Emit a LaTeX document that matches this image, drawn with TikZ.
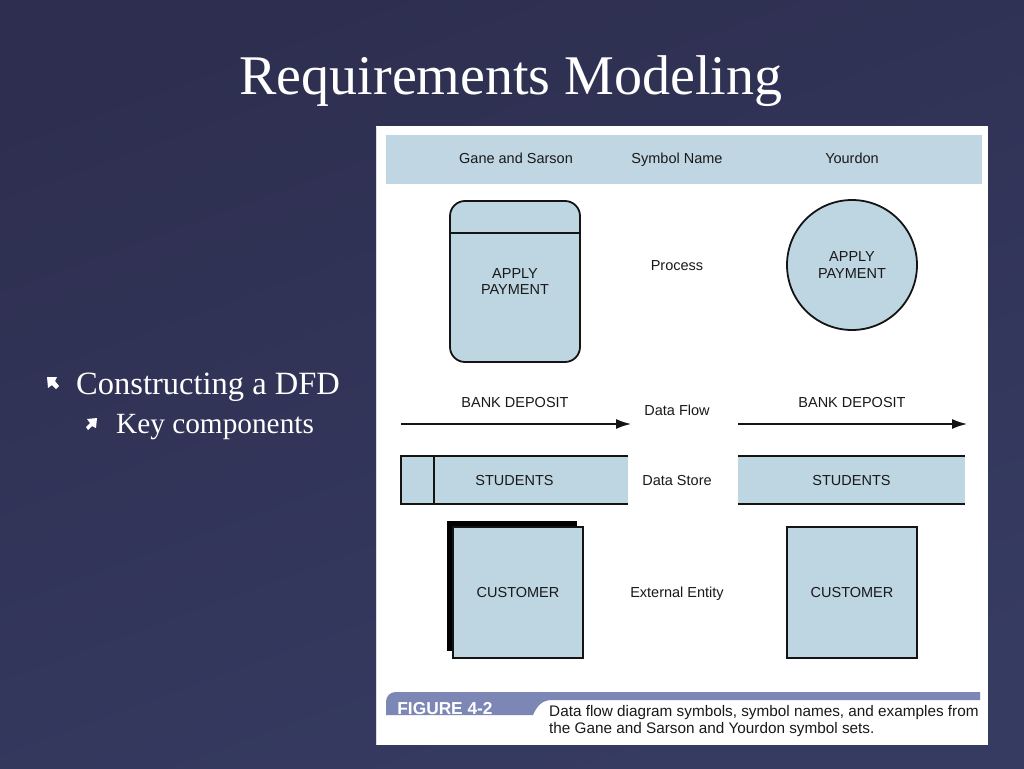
\documentclass[tikz,border=0pt]{standalone}
\usepackage{fontspec}
\setmainfont{Liberation Serif}
\newfontfamily\figfont{Liberation Sans}
\usetikzlibrary{arrows.meta,calc}
\definecolor{slidebg}{RGB}{46,47,80}
\definecolor{slidebgl}{RGB}{54,59,98}
\definecolor{symfill}{RGB}{190,213,226}
\definecolor{bandfill}{RGB}{192,214,226}
\definecolor{tabfill}{RGB}{124,135,182}
\definecolor{inkline}{RGB}{20,20,20}
\definecolor{inktext}{RGB}{25,25,25}
\tikzset{
  lbl/.style={font=\figfont\fontsize{14.5}{16.5}\selectfont, text=inktext, align=center, inner sep=0pt},
  oneline/.style={text height=10.4pt, text depth=0pt},
  symbox/.style={fill=symfill, line width=1.8pt, draw=inkline, lbl},
  storebox/.style={fill=symfill, lbl, oneline, inner sep=0pt},
  edgeline/.style={line width=1.8pt, draw=inkline},
  flowarrow/.style={line width=1.5pt, draw=inkline, -{Latex[length=15pt,width=10pt]}},
  slidetext/.style={text=white, inner sep=0pt},
  bulletmark/.style={fill=white}
}
\begin{document}
\begin{tikzpicture}[x=1pt,y=-1pt]
\useasboundingbox (0,0) rectangle (1024,768);
% background
\shade[top color=slidebg, bottom color=slidebgl, shading angle=20] (0,0) rectangle (1024,768);

% title
\node[slidetext, anchor=base, font=\fontsize{56}{60}\selectfont] (title) at (511,94) {Requirements Modeling};

% bullets
\fill[bulletmark] (47,377) -- (57,377) -- (55,381) -- (59,386) -- (56,389) -- (52,385) -- (48,388) -- cycle;
\node[slidetext, anchor=base west, font=\fontsize{32.5}{35}\selectfont] (b1) at (76,394) {Constructing a DFD};
\fill[bulletmark] (97,418) -- (96,428) -- (92,426) -- (88,430) -- (86,427) -- (90,423) -- (87,419) -- cycle;
\node[slidetext, anchor=base west, font=\fontsize{29.3}{32}\selectfont] (b2) at (116,433) {Key components};

% figure panel
\fill[white] (376,126) rectangle (988,745);
\draw[color=tabfill!30, line width=1pt] (376.5,127) -- (376.5,745);
\fill[bandfill] (386,135) rectangle (982,184);
\node[lbl, oneline] (hgs) at (516,158) {Gane and Sarson};
\node[lbl, oneline] (hsym) at (677,158) {Symbol Name};
\node[lbl, oneline] (hyo) at (852,158) {Yourdon};

% process
\node[symbox, rounded corners=15pt, minimum width=130pt, minimum height=161pt] (gsproc) at (515,281.5) {APPLY\\PAYMENT};
\draw[edgeline] (gsproc.west |- 0,233) -- (gsproc.east |- 0,233);
\node[lbl, oneline] (lproc) at (677,265) {Process};
\node[symbox, circle, minimum size=130pt] (yproc) at (852,265) {APPLY\\PAYMENT};

% data flow
\coordinate (gsfs) at (401,424);
\coordinate (gsfe) at (631,424);
\draw[flowarrow] (gsfs) -- (gsfe);
\node[lbl, oneline] (gsflow) at (515,402) {BANK DEPOSIT};
\node[lbl, oneline] (lflow) at (677,410) {Data Flow};
\coordinate (yfs) at (738,424);
\coordinate (yfe) at (967,424);
\draw[flowarrow] (yfs) -- (yfe);
\node[lbl, oneline] (yflow) at (852,402) {BANK DEPOSIT};

% data store
\node[storebox, minimum width=227pt, minimum height=48pt] (gsstore) at (514.5,480) {STUDENTS};
\draw[edgeline] (gsstore.north east) -- (gsstore.north west) -- (gsstore.south west) -- (gsstore.south east);
\draw[edgeline] ($(gsstore.north west)+(33,0)$) -- ($(gsstore.south west)+(33,0)$);
\node[lbl, oneline] (lstore) at (677,480) {Data Store};
\node[storebox, minimum width=227pt, minimum height=48pt] (ystore) at (851.5,480) {STUDENTS};
\draw[edgeline] (ystore.north west) -- (ystore.north east);
\draw[edgeline] (ystore.south west) -- (ystore.south east);

% external entity
\fill[black] (447,521) rectangle (577,651);
\node[symbox, oneline, minimum width=130pt, minimum height=131pt] (gsent) at (518,592.5) {CUSTOMER};
\node[lbl, oneline] (lent) at (677,592) {External Entity};
\node[symbox, oneline, minimum width=130pt, minimum height=131pt] (yent) at (852,592.5) {CUSTOMER};

% caption bar
\fill[tabfill] (386,715) -- (386,702) .. controls (386,696) and (390,692) .. (396,692) -- (980,692) -- (980,700) -- (552,700) .. controls (542,700) and (537,706) .. (533,715) -- cycle;
\node[text=white, font=\figfont\bfseries\fontsize{17.3}{19}\selectfont, inner sep=0pt, text height=12.4pt, text depth=0pt] (fig) at (445,708) {FIGURE 4-2};
\node[lbl, anchor=west, align=left, font=\figfont\fontsize{15.3}{16.5}\selectfont] (cap) at (549,721) {Data flow diagram symbols, symbol names, and examples from\\the Gane and Sarson and Yourdon symbol sets.};
\end{tikzpicture}
\end{document}
